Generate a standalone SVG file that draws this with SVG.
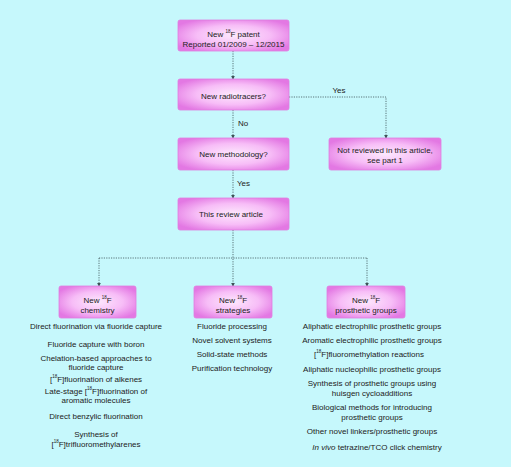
<svg xmlns="http://www.w3.org/2000/svg" width="511" height="467" viewBox="0 0 511 467">
<defs>
<radialGradient id="bx" cx="50%" cy="50%" r="60%">
<stop offset="0%" stop-color="#fde8fd"/>
<stop offset="55%" stop-color="#f7bdf7"/>
<stop offset="100%" stop-color="#e378e3"/>
</radialGradient>
<marker id="ah" viewBox="0 0 6 6" refX="5" refY="3" markerWidth="4" markerHeight="4" orient="auto" markerUnits="userSpaceOnUse">
<path d="M0,0 L6,3 L0,6 z" fill="#3d5358"/>
</marker>
<style>
.box{fill:url(#bx);stroke:#e07de0;stroke-width:0.8}
text{font-family:"Liberation Sans",Arial,sans-serif;font-size:8px;fill:#222}
.c{text-anchor:middle}
.sup{font-size:4.5px}
.ln{fill:none;stroke:#3d5358;stroke-width:0.8;stroke-dasharray:1.2,1.2}
</style>
</defs>
<rect width="511" height="467" fill="#c6f8fc"/>
<g id="connectors">
<path class="ln" d="M233,51 V79" marker-end="url(#ah)"/>
<path class="ln" d="M233,110 V138" marker-end="url(#ah)"/>
<path class="ln" d="M289,97 H386 V138" marker-end="url(#ah)"/>
<path class="ln" d="M233,170 V198" marker-end="url(#ah)"/>
<path class="ln" d="M233,230 V286" marker-end="url(#ah)"/>
<path class="ln" d="M99,258 H367"/>
<path class="ln" d="M99,258 V286" marker-end="url(#ah)"/>
<path class="ln" d="M367,258 V286" marker-end="url(#ah)"/>
<text x="339" y="93" class="c">Yes</text>
<text x="238" y="126">No</text>
<text x="237" y="186">Yes</text>
</g>
<g id="n1">
<rect class="box" x="178" y="20" width="111" height="31" rx="2"/>
<text x="233.5" y="37" class="c">New <tspan class="sup" dy="-4">18</tspan><tspan dy="4">F patent</tspan></text>
<text x="233.5" y="47" class="c">Reported 01/2009 – 12/2015</text>
</g>
<g id="n2">
<rect class="box" x="178" y="79" width="111" height="31" rx="2"/>
<text x="233.5" y="99" class="c">New radiotracers?</text>
</g>
<g id="n3">
<rect class="box" x="178" y="138" width="111" height="32" rx="2"/>
<text x="233.5" y="157" class="c">New methodology?</text>
</g>
<g id="n4">
<rect class="box" x="329" y="138" width="112" height="32" rx="2"/>
<text x="385" y="153" class="c">Not reviewed in this article,</text>
<text x="385" y="163" class="c">see part 1</text>
</g>
<g id="n5">
<rect class="box" x="178" y="198" width="111" height="32" rx="2"/>
<text x="231" y="217" class="c">This review article</text>
</g>
<g id="n6">
<rect class="box" x="59" y="286" width="77" height="32" rx="2"/>
<text x="97.5" y="303" class="c">New <tspan class="sup" dy="-4">18</tspan><tspan dy="4">F</tspan></text>
<text x="97.5" y="313" class="c">chemistry</text>
<text x="96" y="329" class="c">Direct fluorination via fluoride capture</text>
<text x="96" y="347" class="c">Fluoride capture with boron</text>
<text x="96" y="361" class="c">Chelation-based approaches to</text>
<text x="96" y="370" class="c">fluoride capture</text>
<text x="96" y="382" class="c">[<tspan class="sup" dy="-4">18</tspan><tspan dy="4">F]fluorination of alkenes</tspan></text>
<text x="96" y="394" class="c">Late-stage [<tspan class="sup" dy="-4">18</tspan><tspan dy="4">F]fluorination of</tspan></text>
<text x="96" y="403" class="c">aromatic molecules</text>
<text x="96" y="419" class="c">Direct benzylic fluorination</text>
<text x="96" y="437" class="c">Synthesis of</text>
<text x="96" y="447" class="c">[<tspan class="sup" dy="-4">18</tspan><tspan dy="4">F]trifluoromethylarenes</tspan></text>
</g>
<g id="n7">
<rect class="box" x="194" y="286" width="78" height="32" rx="2"/>
<text x="233" y="303" class="c">New <tspan class="sup" dy="-4">18</tspan><tspan dy="4">F</tspan></text>
<text x="233" y="313" class="c">strategies</text>
<text x="232" y="329" class="c">Fluoride processing</text>
<text x="232" y="343" class="c">Novel solvent systems</text>
<text x="232" y="357" class="c">Solid-state methods</text>
<text x="232" y="371" class="c">Purification technology</text>
</g>
<g id="n8">
<rect class="box" x="327" y="286" width="78" height="32" rx="2"/>
<text x="366" y="303" class="c">New <tspan class="sup" dy="-4">18</tspan><tspan dy="4">F</tspan></text>
<text x="366" y="313" class="c">prosthetic groups</text>
<text x="372" y="329" class="c">Aliphatic electrophilic prosthetic groups</text>
<text x="372" y="343" class="c">Aromatic electrophilic prosthetic groups</text>
<text x="369" y="357" class="c">[<tspan class="sup" dy="-4">18</tspan><tspan dy="4">F]fluoromethylation reactions</tspan></text>
<text x="372" y="372" class="c">Aliphatic nucleophilic prosthetic groups</text>
<text x="372" y="386" class="c">Synthesis of prosthetic groups using</text>
<text x="372" y="396" class="c">huisgen cycloadditions</text>
<text x="372" y="410" class="c">Biological methods for introducing</text>
<text x="372" y="420" class="c">prosthetic groups</text>
<text x="372" y="434" class="c">Other novel linkers/prosthetic groups</text>
<text x="377" y="450" class="c"><tspan font-style="italic">In vivo</tspan> tetrazine/TCO click chemistry</text>
</g>
</svg>
